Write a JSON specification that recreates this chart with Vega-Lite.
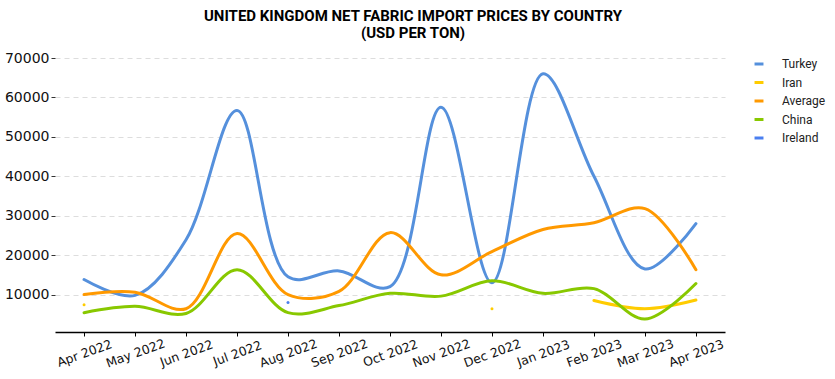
{
  "$schema": "https://vega.github.io/schema/vega-lite/v6.json",
  "width": 670,
  "height": 274,
  "autosize": {"type": "none"},
  "padding": {"left": 55, "top": 58, "right": 110, "bottom": 47},
  "background": "white",
  "title": {
    "text": ["UNITED KINGDOM NET FABRIC IMPORT PRICES BY COUNTRY", "(USD PER TON)"],
    "font": "Roboto",
    "fontSize": 15,
    "fontWeight": "bold",
    "color": "#000000",
    "anchor": "middle",
    "dx": 23,
    "offset": 10,
    "lineHeight": 17
  },
  "data": {
    "values": [
      {"month": "Apr 2022", "country": "Turkey", "value": 13800},
      {"month": "May 2022", "country": "Turkey", "value": 9800},
      {"month": "Jun 2022", "country": "Turkey", "value": 23900},
      {"month": "Jul 2022", "country": "Turkey", "value": 56700},
      {"month": "Aug 2022", "country": "Turkey", "value": 14500},
      {"month": "Sep 2022", "country": "Turkey", "value": 16000},
      {"month": "Oct 2022", "country": "Turkey", "value": 12000},
      {"month": "Nov 2022", "country": "Turkey", "value": 57500},
      {"month": "Dec 2022", "country": "Turkey", "value": 13000},
      {"month": "Jan 2023", "country": "Turkey", "value": 66000},
      {"month": "Feb 2023", "country": "Turkey", "value": 40000},
      {"month": "Mar 2023", "country": "Turkey", "value": 16500},
      {"month": "Apr 2023", "country": "Turkey", "value": 28000},

      {"month": "Apr 2022", "country": "Iran", "value": 7400},
      {"month": "May 2022", "country": "Iran", "value": null},
      {"month": "Jun 2022", "country": "Iran", "value": null},
      {"month": "Jul 2022", "country": "Iran", "value": null},
      {"month": "Aug 2022", "country": "Iran", "value": null},
      {"month": "Sep 2022", "country": "Iran", "value": null},
      {"month": "Oct 2022", "country": "Iran", "value": null},
      {"month": "Nov 2022", "country": "Iran", "value": null},
      {"month": "Dec 2022", "country": "Iran", "value": 6400},
      {"month": "Jan 2023", "country": "Iran", "value": null},
      {"month": "Feb 2023", "country": "Iran", "value": 8500},
      {"month": "Mar 2023", "country": "Iran", "value": 6400},
      {"month": "Apr 2023", "country": "Iran", "value": 8600},

      {"month": "Apr 2022", "country": "Average", "value": 10000},
      {"month": "May 2022", "country": "Average", "value": 10600},
      {"month": "Jun 2022", "country": "Average", "value": 6400},
      {"month": "Jul 2022", "country": "Average", "value": 25500},
      {"month": "Aug 2022", "country": "Average", "value": 10000},
      {"month": "Sep 2022", "country": "Average", "value": 10800},
      {"month": "Oct 2022", "country": "Average", "value": 25700},
      {"month": "Nov 2022", "country": "Average", "value": 15000},
      {"month": "Dec 2022", "country": "Average", "value": 20900},
      {"month": "Jan 2023", "country": "Average", "value": 26500},
      {"month": "Feb 2023", "country": "Average", "value": 28200},
      {"month": "Mar 2023", "country": "Average", "value": 31800},
      {"month": "Apr 2023", "country": "Average", "value": 16300},

      {"month": "Apr 2022", "country": "China", "value": 5400},
      {"month": "May 2022", "country": "China", "value": 7000},
      {"month": "Jun 2022", "country": "China", "value": 5200},
      {"month": "Jul 2022", "country": "China", "value": 16300},
      {"month": "Aug 2022", "country": "China", "value": 5400},
      {"month": "Sep 2022", "country": "China", "value": 7200},
      {"month": "Oct 2022", "country": "China", "value": 10300},
      {"month": "Nov 2022", "country": "China", "value": 9600},
      {"month": "Dec 2022", "country": "China", "value": 13500},
      {"month": "Jan 2023", "country": "China", "value": 10300},
      {"month": "Feb 2023", "country": "China", "value": 11500},
      {"month": "Mar 2023", "country": "China", "value": 3800},
      {"month": "Apr 2023", "country": "China", "value": 12800},

      {"month": "Apr 2022", "country": "Ireland", "value": null},
      {"month": "May 2022", "country": "Ireland", "value": null},
      {"month": "Jun 2022", "country": "Ireland", "value": null},
      {"month": "Jul 2022", "country": "Ireland", "value": null},
      {"month": "Aug 2022", "country": "Ireland", "value": 8000},
      {"month": "Sep 2022", "country": "Ireland", "value": null},
      {"month": "Oct 2022", "country": "Ireland", "value": null},
      {"month": "Nov 2022", "country": "Ireland", "value": null},
      {"month": "Dec 2022", "country": "Ireland", "value": null},
      {"month": "Jan 2023", "country": "Ireland", "value": null},
      {"month": "Feb 2023", "country": "Ireland", "value": null},
      {"month": "Mar 2023", "country": "Ireland", "value": null},
      {"month": "Apr 2023", "country": "Ireland", "value": null}
    ]
  },
  "mark": {
    "type": "line",
    "interpolate": "catmull-rom",
    "strokeWidth": 3,
    "strokeCap": "round",
    "invalid": "break-paths-show-domains"
  },
  "encoding": {
    "x": {
      "field": "month",
      "type": "ordinal",
      "sort": null,
      "scale": {"type": "point", "padding": 0.57},
      "axis": {
        "title": null,
        "labelAngle": -20,
        "labelAlign": "center",
        "labelBaseline": "middle",
        "labelFont": "DejaVu Sans",
        "labelFontSize": 12.5,
        "labelColor": "#111111",
        "labelPadding": 17,
        "domainColor": "#000000",
        "domainWidth": 1.5,
        "tickColor": "#000000",
        "tickSize": 4,
        "grid": false
      }
    },
    "y": {
      "field": "value",
      "type": "quantitative",
      "scale": {"domain": [500, 70000], "nice": false, "zero": false},
      "axis": {
        "title": null,
        "values": [10000, 20000, 30000, 40000, 50000, 60000, 70000],
        "format": "d",
        "labelFont": "DejaVu Sans",
        "labelFontSize": 14,
        "labelColor": "#111111",
        "labelPadding": 2,
        "domain": false,
        "tickColor": "#333333",
        "tickSize": 4,
        "grid": true,
        "gridColor": "#dddddd",
        "gridDash": [5, 4],
        "gridWidth": 1
      }
    },
    "color": {
      "field": "country",
      "type": "nominal",
      "scale": {
        "domain": ["Turkey", "Iran", "Average", "China", "Ireland"],
        "range": ["#5590dc", "#ffcc00", "#ff9900", "#88c800", "#4a7ff0"]
      },
      "legend": {
        "title": null,
        "orient": "none",
        "legendX": 698,
        "legendY": 0,
        "symbolType": "stroke",
        "symbolStrokeWidth": 3,
        "symbolSize": 80,
        "labelFont": "Roboto",
        "labelFontSize": 12,
        "labelColor": "#222222",
        "rowPadding": 6.5,
        "labelOffset": 17
      }
    }
  },
  "config": {"view": {"stroke": null}}
}
